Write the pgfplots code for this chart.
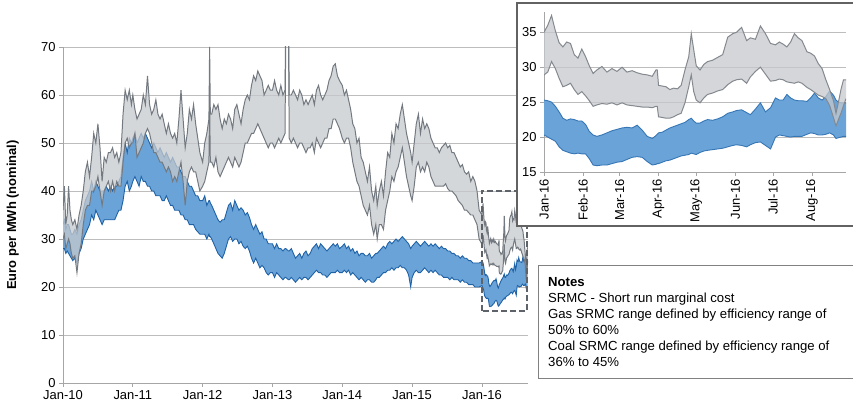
\documentclass[border=0pt]{standalone}
\usepackage{fontspec}
\setmainfont{Liberation Sans}
\usepackage{pgfplots}
\usepackage{pgfplotstable}
\pgfplotsset{compat=1.18}
\definecolor{gasfill}{HTML}{C6C9CD}
\definecolor{gasline}{HTML}{737980}
\definecolor{coalfill}{HTML}{6AA3D8}
\definecolor{coalline}{HTML}{1F62A6}
\definecolor{gridc}{HTML}{BDBDBD}
\definecolor{axisc}{HTML}{A6A6A6}
\definecolor{boxc}{HTML}{5E636A}
\definecolor{framec}{HTML}{626262}

% t = time in years; gas SRMC range (gH,gL), coal SRMC range (cH,cL), Euro/MWh
\pgfplotstableread{
t gH gL cH cL
2010.00 36 30 33 28
2010.02 41 31 34 28
2010.04 33 28 32 27
2010.06 35 29 33 27.5
2010.08 41 30 33 27
2010.10 36 29 32 26.5
2010.12 34 27 31 26
2010.14 33 26 31 25.5
2010.17 34 26.5 32 26
2010.20 32 23 31 25
2010.23 35 27 33 27
2010.26 37 29 34 28
2010.29 40 33 36 30
2010.32 44 36 38 31
2010.35 46 37 39 32
2010.38 43 37 40 33
2010.41 47 40 42 35
2010.44 52 40 40 34
2010.47 50 41 42 36
2010.50 54 43 41 35
2010.53 49 40 40 34
2010.56 42 37 40 33
2010.59 47 40 40 34
2010.62 46 41 41 34
2010.65 48 42 40 34
2010.68 48 40 41 34
2010.71 49 42 40 34
2010.74 47 40 41 34
2010.77 48 42 41 35
2010.80 46 41 42 36
2010.83 48 41 43 36
2010.86 56 46 47 38
2010.89 61 50 50 41
2010.92 59 51 48 42
2010.95 61 49 51 40
2010.98 58 50 50 41
2011.00 60 50 51 42
2011.03 57 52 52 43
2011.06 55 47 50 42
2011.09 56 48 51 41
2011.12 57 49 52 43
2011.15 60 50 51 42
2011.18 58 52 52 42
2011.21 64 53 51 41
2011.24 58 52 50 41
2011.27 56 50 49 40
2011.30 57 48 50 40
2011.33 59 48 49 39
2011.36 56 47 48 39
2011.39 55 46 49 39
2011.42 56 46 48 38
2011.45 54 45 47 38
2011.48 52 44 48 39
2011.51 54 45 47 38
2011.54 52 44 46 37
2011.57 51 42 47 37
2011.60 52 43 46 36
2011.63 50 42 45 36
2011.66 55 44 45 36
2011.69 61 46 44 35
2011.72 55 42 43 35
2011.75 49 37 43 34
2011.78 52 42 42 34
2011.81 57 44 41 33
2011.84 55 45 41 33
2011.87 58 44 40 33
2011.90 54 44 39 32
2011.93 51 42 39 31.5
2011.96 48 40 38 31
2012.00 46 41 38 31
2012.03 50 42 39 31
2012.06 52 44 37 30
2012.09 55 46 38 31
2012.10 70 58 38 30.5
2012.11 56 46 37.5 30.5
2012.13 56 46 37 30
2012.16 58 45 36 29
2012.19 57 47 35 28
2012.22 58 44 34 27
2012.25 55 43 33.5 26.5
2012.28 53 44 34 26
2012.31 55 45 34 27
2012.34 54 46 35.5 28.5
2012.37 56 47 37 30
2012.40 55 46 37.5 30.5
2012.43 53 45 36 29.5
2012.46 57 47 38 30
2012.49 58 46 37 30
2012.52 56 45 36 29
2012.55 54 46 36.5 29.5
2012.58 57 48 36 28.5
2012.61 59 50 35 28
2012.64 60 50 35.5 28.5
2012.67 59 51 34.5 27.5
2012.70 62 52 33 26
2012.73 64 52 32 25
2012.76 63 53 33 26
2012.79 65 54 32 25
2012.82 64 53 31 24
2012.85 63 52 31.5 24.5
2012.88 60 51 30 24
2012.91 61 50 30 23
2012.94 62 49 29 22.5
2012.97 61 50 29 23
2013.00 61 50 29 23
2013.03 63 49 28 22
2013.06 61 50 29 23
2013.09 60 51 28 22.5
2013.12 62 50 28 22
2013.15 60 51 27.5 21.5
2013.18 61 52 28 22
2013.19 75 72 28 22
2013.23 75 72 27.5 21.5
2013.24 60 51 27.5 21.5
2013.27 60 50 28 22
2013.30 61 51 27 21.5
2013.33 60 50 26 21
2013.36 59 49 26.5 21.5
2013.39 61 50 27 22
2013.42 60 50 26 21.5
2013.45 58 49 27 22
2013.48 59 48 27.5 22
2013.51 58 49 26.5 21.5
2013.54 59 49 27 22
2013.57 60 50 28 22.5
2013.60 58 48 28.5 23
2013.63 61 51 29 23.5
2013.66 62 50 28 23
2013.69 60 49 29 23
2013.72 59 50 28.5 22.5
2013.75 60 51 28 22.5
2013.78 61 51 27.5 22
2013.81 63 53 28 22.5
2013.84 64 53 28.5 23
2013.87 66 55 29 23
2013.90 66.5 55 28.5 23
2013.93 64 54 29 23.5
2013.96 63 53 28 23
2014.00 62 51 28.5 23
2014.03 60 50 29 23.5
2014.06 61 51 28 23
2014.09 59 51 28.5 23.5
2014.12 57 49 27.5 22.5
2014.15 54 46 28 23
2014.18 53 44 27 22.5
2014.21 50 42 27.5 22
2014.24 51 41 26.5 21.5
2014.27 47 39 27 22
2014.30 46 37 27 21.5
2014.33 44 36 26.5 21
2014.36 42 35 26.5 21.5
2014.39 45 37 27 21.5
2014.42 40 33 26 21
2014.45 38 31 26.5 21
2014.48 41 33 27 21.5
2014.50 37 30 27 22
2014.53 40 33 27.5 22
2014.56 42 33 28 22.5
2014.59 39 32 28.5 23
2014.62 44 36 28 23
2014.65 48 38 29 23.5
2014.68 47 40 29.5 23.5
2014.71 52 43 29 24
2014.74 50 42 29.5 23.5
2014.77 54 44 30 24
2014.80 53 45 29.5 24
2014.83 56 47 30 24.5
2014.86 58 49 30.5 24
2014.89 55 46 30 24
2014.92 52 43 29.5 23.5
2014.95 50 41 29 22.5
2014.98 48 39 28 20
2015.00 46 38 28.5 22
2015.03 50 41 29 23
2015.06 54 45 29.5 23.5
2015.09 56 46 29 23
2015.12 52 44 28.5 23
2015.15 55 45 29 23.5
2015.18 53 44 29.5 24
2015.21 54 46 29 23.5
2015.24 53 45 28.5 23
2015.27 51 43 29 23.5
2015.30 50 42 28.5 23
2015.33 49 41 29 23.5
2015.36 49 41 28.5 23
2015.39 48 41 28 22.5
2015.42 49 41 28.5 22.5
2015.45 49.5 41 28 22
2015.48 50 41.5 28 22
2015.51 49 40.5 27.5 22
2015.54 49.5 40 27.5 21.5
2015.57 48 40 27 22
2015.60 48 39.5 27 21.5
2015.63 47 39 26.5 21.5
2015.66 46 38 26.5 21.5
2015.69 45 37.5 26 21
2015.72 45.5 37 26.5 21.5
2015.75 44 36 26 21
2015.78 43.5 36 26 21
2015.81 44 35.5 25.5 20.5
2015.84 42 35 25.5 20.5
2015.87 43 35 25 20.5
2015.90 42 34 25 20
2015.93 40 33 25 20
2015.96 36 30 25 20
2016.0000 35.0 28.9 25.3 20.3
2016.0082 36.0 29.3 25.2 20.0
2016.0164 37.4 30.8 25.0 19.7
2016.0246 35.2 29.8 24.4 19.4
2016.0328 33.5 28.4 23.6 18.6
2016.0410 32.9 27.2 22.7 18.1
2016.0492 33.6 27.4 22.4 17.9
2016.0574 33.4 27.7 22.6 17.7
2016.0656 31.8 26.8 22.5 17.6
2016.0738 31.3 26.1 22.3 17.7
2016.0820 32.6 26.5 22.3 17.6
2016.0902 31.5 25.9 21.8 17.6
2016.0984 30.2 25.2 20.8 16.9
2016.1066 29.1 24.4 20.3 16.0
2016.1148 29.6 24.6 20.1 15.9
2016.1257 30.1 24.8 20.3 16.0
2016.1366 29.3 24.7 20.6 16.0
2016.1475 29.8 24.9 20.9 16.2
2016.1585 29.4 24.6 21.1 16.4
2016.1694 30.0 24.9 21.3 16.5
2016.1803 29.3 24.6 21.4 16.8
2016.1913 29.5 24.5 21.3 17.1
2016.2022 29.2 24.4 21.7 17.2
2016.2131 29.0 24.3 21.0 17.1
2016.2240 28.9 24.3 20.1 16.5
2016.2350 28.7 24.2 19.8 16.0
2016.2432 29.6 24.4 20.2 16.1
2016.2459 29.6 24.4 20.4 16.2
2016.2486 27.4 22.9 20.6 16.2
2016.2568 27.3 22.8 20.7 16.4
2016.2650 27.2 22.7 21.0 16.6
2016.2732 26.8 22.7 21.3 16.7
2016.2814 27.0 22.9 21.5 16.9
2016.2896 26.9 23.2 21.7 17.1
2016.2978 27.4 23.4 21.9 17.3
2016.3060 29.6 24.9 22.1 17.4
2016.3142 31.5 27.2 22.5 17.5
2016.3197 34.8 28.9 22.7 17.7
2016.3251 32.5 26.5 22.3 17.6
2016.3306 30.2 25.3 22.0 17.5
2016.3388 29.6 24.9 22.0 17.8
2016.3470 30.4 25.6 22.3 18.0
2016.3552 30.8 26.1 22.5 18.1
2016.3661 31.0 26.3 22.4 18.2
2016.3770 31.4 26.6 22.6 18.3
2016.3880 31.8 26.8 22.9 18.4
2016.3989 34.3 27.5 23.4 18.6
2016.4098 34.8 28.0 23.6 18.8
2016.4180 35.0 28.2 23.8 18.9
2016.4290 35.7 28.3 23.9 18.8
2016.4399 33.8 27.7 23.5 18.6
2016.4481 34.2 28.6 23.2 18.9
2016.4590 34.0 29.4 24.0 19.2
2016.4699 35.9 30.0 24.9 19.3
2016.4809 34.8 29.0 23.6 18.8
2016.4918 33.4 28.0 24.2 18.3
2016.5027 33.2 28.1 25.6 20.0
2016.5109 33.6 28.3 25.3 20.3
2016.5191 33.3 28.2 25.3 20.2
2016.5273 32.9 27.9 26.1 20.1
2016.5355 33.6 27.8 25.6 20.0
2016.5437 34.8 27.7 25.3 20.1
2016.5519 34.2 27.9 25.2 20.1
2016.5601 33.8 27.7 25.2 20.1
2016.5710 32.2 27.1 25.1 20.4
2016.5792 32.0 26.8 25.6 20.6
2016.5874 31.6 26.4 26.3 20.5
2016.5956 30.5 26.0 25.6 20.3
2016.6038 29.8 25.8 25.3 20.3
2016.6120 28.2 25.5 25.8 20.4
2016.6202 26.8 24.5 26.6 20.6
2016.6284 25.2 22.8 26.0 20.3
2016.6339 23.4 21.6 25.3 19.8
2016.6393 25.0 22.5 25.0 19.9
2016.6448 26.8 23.4 24.9 20.0
2016.6503 28.2 24.5 24.9 20.1
2016.6557 28.2 25.5 24.9 20.1
}\srmc

\pgfplotsset{
  common/.style={
    scale only axis,
    axis lines=left,
    axis line style={draw=axisc, line width=0.8pt, -},
    tick align=outside,
    major tick length=4pt,
    tick style={draw=axisc, line width=0.8pt},
    ymajorgrids,
    grid style={draw=gridc, line width=0.8pt},
    tick label style={font=\fontsize{13}{15}\selectfont, text=black},
    /pgf/number format/assume math mode=true,
  },
}

\begin{document}
\begin{tikzpicture}
\useasboundingbox (0,0) rectangle (853bp,408bp);
% ---------------- main chart ----------------
\begin{axis}[common,
  at={(63bp,25bp)}, anchor=south west,
  width=465bp, height=336bp,
  xmin=2010, xmax=2016.66, ymin=0, ymax=70,
  xtick={2010,2011,2012,2013,2014,2015,2016},
  xticklabels={Jan-10,Jan-11,Jan-12,Jan-13,Jan-14,Jan-15,Jan-16},
  ytick={0,10,20,30,40,50,60,70},
  ylabel={Euro per MWh (nominal)},
  ylabel style={at={(axis description cs:-0.108,0.5)}, anchor=center, font=\fontsize{13}{15}\selectfont\bfseries},
]
\addplot[draw=none, stack plots=y, forget plot] table[x=t, y=cL] {\srmc};
\addplot[draw=none, fill=coalfill, stack plots=y] table[x=t, y expr=\thisrow{cH}-\thisrow{cL}] {\srmc} \closedcycle;
\addplot[coalline, line width=0.9pt] table[x=t, y=cH] {\srmc};
\addplot[coalline, line width=0.9pt] table[x=t, y=cL] {\srmc};
\addplot[draw=none, stack plots=y, forget plot] table[x=t, y expr=\thisrow{gL}-\thisrow{cH}] {\srmc};
\addplot[draw=none, fill=gasfill, fill opacity=0.75, stack plots=y] table[x=t, y expr=\thisrow{gH}-\thisrow{gL}] {\srmc} \closedcycle;
\addplot[gasline, line width=1pt] table[x=t, y=gH] {\srmc};
\addplot[gasline, line width=1pt] table[x=t, y=gL] {\srmc};
% zoom box
\draw[boxc, line width=2pt, dash pattern=on 6pt off 3pt]
  (axis cs:2016,15) rectangle (axis cs:2016.645,40);
\end{axis}

% ---------------- inset frame ----------------
\draw[framec, line width=1.5pt, fill=white] (517bp,182bp) rectangle (858bp,405bp);

% ---------------- inset chart ----------------
\begin{axis}[common,
  at={(544bp,236bp)}, anchor=south west,
  width=302bp, height=160bp,
  xmin=0, xmax=240, ymin=15, ymax=37.9,
  xtick={0,31,60,91,121,152,182,213},
  xticklabels={Jan-16,Feb-16,Mar-16,Apr-16,May-16,Jun-16,Jul-16,Aug-16},
  x tick label style={rotate=90, anchor=east},
  ytick={15,20,25,30,35},
]
\addplot[draw=none, stack plots=y, forget plot] table[x expr=366*(\thisrow{t}-2016), y=cL] {\srmc};
\addplot[draw=none, fill=coalfill, stack plots=y] table[x expr=366*(\thisrow{t}-2016), y expr=\thisrow{cH}-\thisrow{cL}] {\srmc} \closedcycle;
\addplot[coalline!70!coalfill, line width=0.9pt] table[x expr=366*(\thisrow{t}-2016), y=cH] {\srmc};
\addplot[coalline!70!coalfill, line width=0.9pt] table[x expr=366*(\thisrow{t}-2016), y=cL] {\srmc};
\addplot[draw=none, stack plots=y, forget plot] table[x expr=366*(\thisrow{t}-2016), y expr=\thisrow{gL}-\thisrow{cH}] {\srmc};
\addplot[draw=none, fill=gasfill, fill opacity=0.75, stack plots=y] table[x expr=366*(\thisrow{t}-2016), y expr=\thisrow{gH}-\thisrow{gL}] {\srmc} \closedcycle;
\addplot[gasline!80!gasfill, line width=1pt] table[x expr=366*(\thisrow{t}-2016), y=gH] {\srmc};
\addplot[gasline!80!gasfill, line width=1pt] table[x expr=366*(\thisrow{t}-2016), y=gL] {\srmc};
\end{axis}

% ---------------- notes box ----------------
\draw[framec!80, line width=0.9pt] (538bp,30bp) rectangle (858bp,143bp);
\node[anchor=north west, inner sep=0pt, align=left, font=\fontsize{13.2}{16.2}\selectfont]
  at (548bp,131bp) {\textbf{Notes}\\
SRMC - Short run marginal cost\\
Gas SRMC range defined by efficiency range of\\
50\% to 60\%\\
Coal SRMC range defined by efficiency range of\\
36\% to 45\%};
\end{tikzpicture}
\end{document}
